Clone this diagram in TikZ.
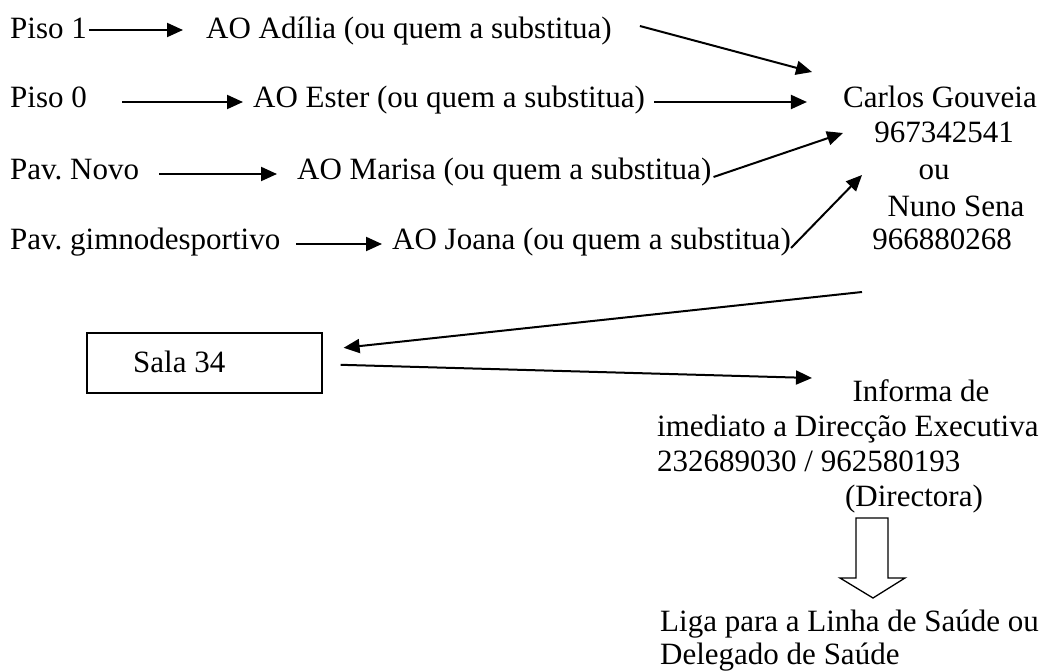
\documentclass[tikz,border=0pt]{standalone}
\usepackage{fontspec}
\setmainfont{Liberation Serif}
\usetikzlibrary{arrows.meta}
\frenchspacing
\begin{document}
\begin{tikzpicture}[x=1pt,y=-1pt,
  txt/.style={inner sep=0pt, font=\fontsize{31}{35.5}\selectfont},
  arr/.style={line width=2pt, -{Triangle[length=16pt,width=14pt]}},
  boxline/.style={line width=1.6pt},
]
\useasboundingbox (0,0) rectangle (1050,671);
% left column
\node[txt,anchor=base west] (p1) at (10,39) {Piso 1};
\node[txt,anchor=base west] (adilia) at (206,39) {AO Adília (ou quem a substitua)};
\node[txt,anchor=base west] (p0) at (10,108) {Piso 0};
\node[txt,anchor=base west] (ester) at (253,108) {AO Ester (ou quem a substitua)};
\node[txt,anchor=base west] (pn) at (10,180) {Pav. Novo};
\node[txt,anchor=base west] (marisa) at (297,180) {AO Marisa (ou quem a substitua)};
\node[txt,anchor=base west] (pg) at (10,250) {Pav. gimnodesportivo};
\node[txt,anchor=base west] (joana) at (392,250) {AO Joana (ou quem a substitua)};
% right column
\node[txt,anchor=base] (carlos) at (940,108) {Carlos Gouveia};
\node[txt,anchor=base] (tel1) at (944,143) {967342541};
\node[txt,anchor=base] (ou) at (934,180) {ou};
\node[txt,anchor=base] (nuno) at (956,217) {Nuno Sena};
\node[txt,anchor=base] (tel2) at (942,250) {966880268};
% free ends
\coordinate (c1) at (812,72);
\coordinate (c2) at (843,133);
\coordinate (c3) at (862,175);
\coordinate (c4) at (862,292);
\coordinate (c5) at (812,378);
% sala box
\node[boxline, draw, anchor=north west, minimum width=235pt, minimum height=60pt, inner sep=0pt] (sala) at (86,332) {};
\node[txt,anchor=base west] (salat) at (133,372) {Sala 34};
% bottom block
\node[txt,anchor=base] (inf1) at (921,401) {Informa de};
\node[txt,anchor=base west] (inf2) at (657,436) {imediato a Direcção Executiva};
\node[txt,anchor=base west] (inf3) at (657,471) {232689030 / 962580193};
\node[txt,anchor=base] (inf4) at (914,506) {(Directora)};
\node[txt,anchor=base west] (liga1) at (660,631) {Liga para a Linha de Saúde ou};
\node[txt,anchor=base west] (liga2) at (660,664) {Delegado de Saúde};
% horizontal arrows
\draw[arr, shorten <=2pt, shorten >=23pt] ([yshift=9pt]p1.base east) -- ([yshift=9pt]adilia.base west);
\draw[arr, shorten <=35pt, shorten >=10pt] ([yshift=6pt]p0.base east) -- ([yshift=6pt]ester.base west);
\draw[arr, shorten <=9pt] ([yshift=6pt]ester.base east) -- ([yshift=6pt,xshift=-36pt]carlos.base west);
\draw[arr, shorten <=20pt, shorten >=20pt] ([yshift=6pt]pn.base east) -- ([yshift=6pt]marisa.base west);
\draw[arr, shorten <=16pt, shorten >=10pt] ([yshift=6pt]pg.base east) -- ([yshift=6pt]joana.base west);
% diagonal arrows
\draw[arr] ([shift={(28pt,13pt)}]adilia.base east) -- (c1);
\draw[arr] ([shift={(2pt,3pt)}]marisa.base east) -- (c2);
\draw[arr] ([shift={(0pt,2pt)}]joana.base east) -- (c3);
\draw[arr] (c4) -- ([shift={(21pt,15pt)}]sala.east);
\draw[arr] ([shift={(18pt,-2pt)}]sala.east) -- (c5);
% block arrow
\draw[line width=1.3pt, line join=miter] (856,518) -- (888,518) -- (888,578) -- (905,578) -- (873,598) -- (840,578) -- (856,578) -- cycle;
\end{tikzpicture}
\end{document}
